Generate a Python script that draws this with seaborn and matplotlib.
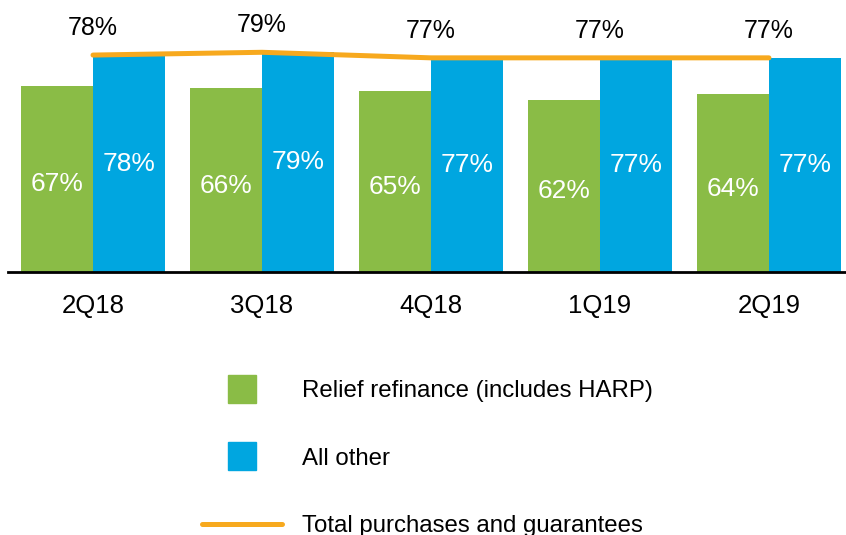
import pandas as pd
import matplotlib
matplotlib.use("Agg")
import matplotlib.pyplot as plt
import seaborn as sns
from matplotlib.lines import Line2D

# Data
quarters = ["2Q18", "3Q18", "4Q18", "1Q19", "2Q19"]
relief_refi = [67, 66, 65, 62, 64]
all_other = [78, 79, 77, 77, 77]
total = [78, 79, 77, 77, 77]

series_names = ["Relief refinance (includes HARP)", "All other"]
total_name = "Total purchases and guarantees"

green = "#8ABC46"
blue = "#00A6E0"
orange = "#F7A91E"

df = pd.DataFrame({
    "quarter": quarters * 2,
    "series": [series_names[0]] * len(quarters) + [series_names[1]] * len(quarters),
    "value": relief_refi + all_other,
})

sns.set_style("white")
plt.rcParams["font.family"] = ["Liberation Sans", "DejaVu Sans"]

fig = plt.figure(figsize=(8.46, 5.35), dpi=100)
ax = fig.add_axes([8 / 846, 1 - 272 / 535, 1 - 8 / 846, 272 / 535])

sns.barplot(data=df, x="quarter", y="value", hue="series", order=quarters,
            hue_order=series_names, palette=[green, blue], width=0.852,
            saturation=1, legend=False, linewidth=0, ax=ax)

# white labels inside the bars (green ones sit a little below centre)
for cont, vals, dy in zip(ax.containers, [relief_refi, all_other], [-4, 0]):
    texts = ax.bar_label(cont, labels=[f"{v}%" for v in vals], label_type="center",
                         color="white", fontsize=19)
    for t in texts:
        t.xyann = (0, dy)

# total line across group centres
xpos = list(range(len(quarters)))
sns.lineplot(x=xpos, y=total, color=orange, linewidth=3.6, ax=ax, zorder=5)
for x, v in zip(xpos, total):
    ax.text(x, v + 9.8, f"{v}%", ha="center", va="center", fontsize=18, color="black")

ax.set_xlim(-0.503, 4.456)
ax.set_ylim(0, 97.8)
ax.set_xlabel("")
ax.set_ylabel("")
ax.set_yticks([])
ax.tick_params(axis="x", length=0, pad=16, labelsize=18.5, labelcolor="black")
for s in ["top", "left", "right"]:
    ax.spines[s].set_visible(False)
ax.spines["bottom"].set_color("black")
ax.spines["bottom"].set_linewidth(2)
ax.patch.set_alpha(0)

handles = [
    Line2D([], [], marker="s", linestyle="none", markersize=20,
           markerfacecolor=green, markeredgecolor=green),
    Line2D([], [], marker="s", linestyle="none", markersize=20,
           markerfacecolor=blue, markeredgecolor=blue),
    Line2D([], [], color=orange, linewidth=3.6),
]
leg = fig.legend(handles, series_names + [total_name], loc="upper left",
                 bbox_to_anchor=(202 / 846, 1 - 380 / 535), frameon=False,
                 fontsize=17.3, borderpad=0, borderaxespad=0, handlelength=3.35,
                 handletextpad=0.8, labelspacing=1.9)
for t in leg.get_texts():
    t.set_color("black")

fig.savefig("out.png", dpi=100)
